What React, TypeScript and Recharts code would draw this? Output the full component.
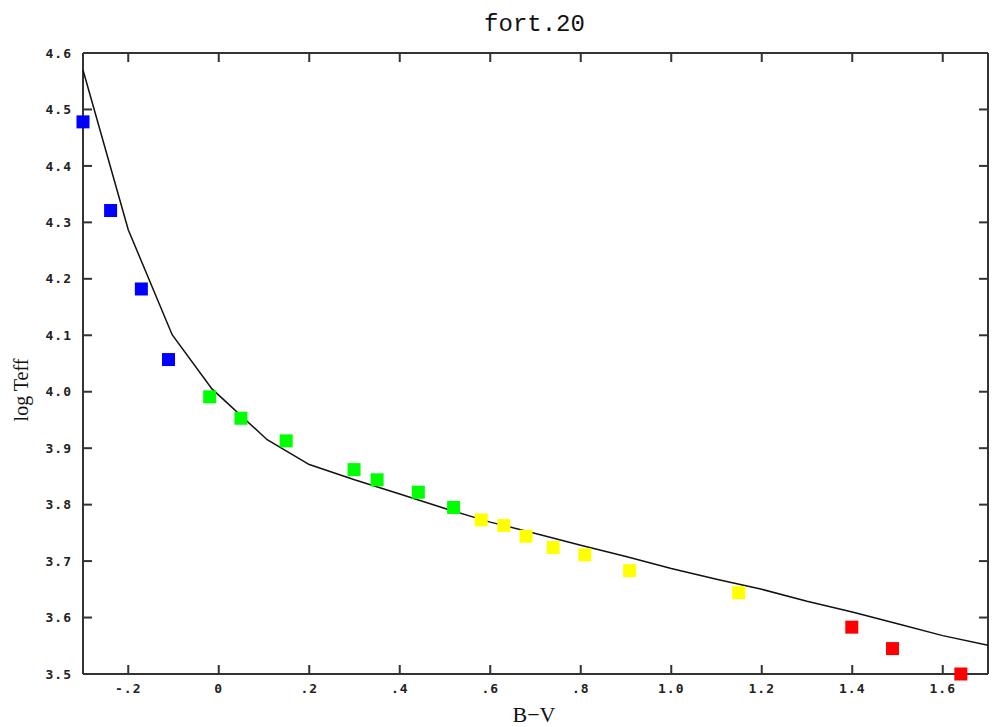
import React from 'react';
import { ComposedChart, Line, Scatter, XAxis, YAxis, ReferenceLine } from 'recharts';

// model curve (B-V vs log Teff)
const curveBV = [-0.3, -0.2, -0.103, -0.015, 0.107, 0.2, 0.3, 0.4, 0.5, 0.6, 0.7, 0.8, 0.9, 1.0, 1.1, 1.2, 1.3, 1.4, 1.5, 1.6, 1.7];
const curveLogT = [4.57, 4.287, 4.101, 4.005, 3.915, 3.871, 3.844, 3.819, 3.793, 3.769, 3.749, 3.728, 3.708, 3.687, 3.668, 3.65, 3.629, 3.61, 3.589, 3.568, 3.551];

// observed stars, grouped by colour
const blueBV = [-0.3, -0.239, -0.171, -0.111];
const blueLogT = [4.478, 4.321, 4.182, 4.057];
const greenBV = [-0.02, 0.049, 0.149, 0.299, 0.35, 0.441, 0.519];
const greenLogT = [3.991, 3.953, 3.913, 3.862, 3.844, 3.822, 3.795];
const yellowBV = [0.58, 0.63, 0.679, 0.739, 0.809, 0.908, 1.149];
const yellowLogT = [3.773, 3.763, 3.744, 3.724, 3.711, 3.683, 3.644];
const redBV = [1.399, 1.489, 1.64];
const redLogT = [3.583, 3.545, 3.5];

const xDomain = [-0.3, 1.7];
const yDomain = [3.5, 4.6];
const xTicks = [-0.2, 0, 0.2, 0.4, 0.6, 0.8, 1.0, 1.2, 1.4, 1.6];
const yTicks = [3.5, 3.6, 3.7, 3.8, 3.9, 4.0, 4.1, 4.2, 4.3, 4.4, 4.5, 4.6];

const zip = (xs: number[], ys: number[]) => xs.map((bv, i) => ({ bv, logT: ys[i] }));

const curveData = zip(curveBV, curveLogT);
const groups = [
  { name: 'blue', color: '#0000ff', data: zip(blueBV, blueLogT) },
  { name: 'green', color: '#00ff00', data: zip(greenBV, greenLogT) },
  { name: 'yellow', color: '#ffff00', data: zip(yellowBV, yellowLogT) },
  { name: 'red', color: '#ff0000', data: zip(redBV, redLogT) },
];

const [x0, x1] = xDomain;
const [y0, y1] = yDomain;

// tick mark anchors on the four edges of the frame
const tickSides = [
  { side: 'bottom', data: xTicks.map((v) => ({ bv: v, logT: y0 })) },
  { side: 'top', data: xTicks.map((v) => ({ bv: v, logT: y1 })) },
  { side: 'left', data: yTicks.map((v) => ({ bv: x0, logT: v })) },
  { side: 'right', data: yTicks.map((v) => ({ bv: x1, logT: v })) },
];

const fmtX = (v: number) => {
  if (v === 0) return '0';
  if (Math.abs(v) >= 1) return v.toFixed(1);
  return v.toFixed(1).replace('0.', '.');
};
const fmtY = (v: number) => v.toFixed(1);

const INK = '#333333';
const TICK = 9;

const tickFont = {
  fill: '#222',
  fontSize: 13,
  fontFamily: 'DejaVu Sans Mono',
  fontWeight: 'bold',
  letterSpacing: 1,
};

const Square = (color: string) => (props: any) => {
  const { cx, cy } = props;
  if (cx == null || cy == null) return <g />;
  return <rect x={cx - 6.5} y={cy - 6.5} width={13} height={13} fill={color} />;
};

// short inward tick drawn as a thin filled bar
const TickMark = (side: string) => (props: any) => {
  const { cx, cy } = props;
  if (cx == null || cy == null) return <g />;
  if (side === 'bottom') return <rect x={cx - 1} y={cy - TICK} width={2} height={TICK} fill={INK} />;
  if (side === 'top') return <rect x={cx - 1} y={cy} width={2} height={TICK} fill={INK} />;
  if (side === 'left') return <rect x={cx} y={cy - 1} width={TICK} height={2} fill={INK} />;
  return <rect x={cx - TICK} y={cy - 1} width={TICK} height={2} fill={INK} />;
};

export default function App() {
  return (
    <div style={{ position: 'absolute', left: 0, top: 0, width: 992, height: 727, background: '#fff' }}>
      <ComposedChart width={992} height={727} margin={{ top: 53, right: 4, bottom: 0, left: 0 }}>
        <XAxis
          xAxisId="x"
          type="number"
          dataKey="bv"
          domain={xDomain}
          ticks={xTicks}
          interval={0}
          tickFormatter={fmtX}
          height={53}
          tickSize={0}
          tickMargin={10}
          axisLine={false}
          tickLine={false}
          tick={tickFont}
        />
        <YAxis
          yAxisId="y"
          type="number"
          dataKey="logT"
          domain={yDomain}
          ticks={yTicks}
          interval={0}
          tickFormatter={fmtY}
          width={83}
          tickSize={0}
          tickMargin={11}
          axisLine={false}
          tickLine={false}
          tick={tickFont}
        />

        {/* frame */}
        <ReferenceLine xAxisId="x" yAxisId="y" x={x0} stroke={INK} strokeWidth={2} />
        <ReferenceLine xAxisId="x" yAxisId="y" x={x1} stroke={INK} strokeWidth={2} />
        <ReferenceLine xAxisId="x" yAxisId="y" y={y0} stroke={INK} strokeWidth={2} />
        <ReferenceLine xAxisId="x" yAxisId="y" y={y1} stroke={INK} strokeWidth={2} />

        {tickSides.map((t) => (
          <Scatter
            key={t.side}
            xAxisId="x"
            yAxisId="y"
            data={t.data}
            dataKey="logT"
            shape={TickMark(t.side)}
            isAnimationActive={false}
          />
        ))}

        <Line
          xAxisId="x"
          yAxisId="y"
          data={curveData}
          dataKey="logT"
          type="linear"
          stroke="#111"
          strokeWidth={1.5}
          dot={false}
          isAnimationActive={false}
        />
        {groups.map((g) => (
          <Scatter
            key={g.name}
            xAxisId="x"
            yAxisId="y"
            data={g.data}
            dataKey="logT"
            shape={Square(g.color)}
            isAnimationActive={false}
          />
        ))}
      </ComposedChart>
      <svg
        width={992}
        height={727}
        style={{ position: 'absolute', left: 0, top: 0, pointerEvents: 'none' }}
      >
        <text x={534.5} y={31} textAnchor="middle" fontFamily="Liberation Mono" fontSize={24} fill="#111">
          fort.20
        </text>
        <text x={534} y={722} textAnchor="middle" fontFamily="Liberation Serif" fontSize={22} fill="#111">
          B−V
        </text>
        <text
          transform="translate(28,390) rotate(-90)"
          textAnchor="middle"
          fontFamily="Liberation Serif"
          fontSize={20}
          fill="#111"
        >
          log Teff
        </text>
      </svg>
    </div>
  );
}
